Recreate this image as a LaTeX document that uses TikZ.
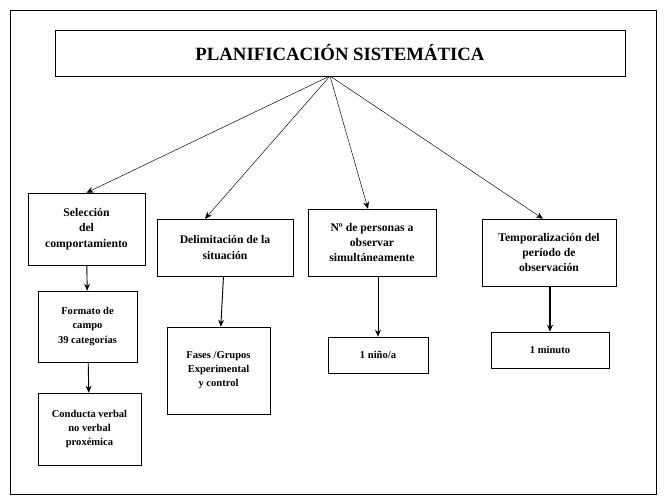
\documentclass[tikz,border=0pt]{standalone}
\usepackage{fontspec}
\setmainfont{Liberation Serif}
\usetikzlibrary{arrows.meta}

\tikzset{
  box/.style={draw=black, fill=white, align=center, inner sep=1pt, font=\bfseries\fontsize{10}{13}\selectfont},
  link/.style={draw=black, -{Stealth[length=6pt,width=5pt]}}
}

\begin{document}
\begin{tikzpicture}[x=0.03cm, y=-0.03cm]
\useasboundingbox (0,0) rectangle (666,500);
\draw (10,10) rectangle (656,494);

\node[box, minimum width=570*0.03cm, minimum height=46*0.03cm, font=\bfseries\fontsize{16}{18}\selectfont] (plan) at (340,53) {PLANIFICACIÓN SISTEMÁTICA};
\coordinate (apex) at (330,76);

\node[box, minimum width=117*0.03cm, minimum height=72*0.03cm] (sel) at (86.5,229) {Selección\\del\\comportamiento};
\node[box, minimum width=136*0.03cm, minimum height=57*0.03cm] (delim) at (225,247.5) {Delimitación de la\\situación};
\node[box, minimum width=128*0.03cm, minimum height=67*0.03cm] (npers) at (372,242.5) {Nº de personas a\\observar\\simultáneamente};
\node[box, minimum width=134*0.03cm, minimum height=67*0.03cm] (temp) at (549,252.5) {Temporalización del\\período de\\observación};

\node[box, minimum width=99*0.03cm, minimum height=71*0.03cm, font=\bfseries\fontsize{9}{12}\selectfont] (form) at (87.5,326.5) {Formato de\\campo\\39 categorías};
\node[box, minimum width=103*0.03cm, minimum height=72*0.03cm, font=\bfseries\fontsize{9}{12}\selectfont] (cond) at (89.5,429) {Conducta verbal\\no verbal\\proxémica};
\node[box, minimum width=103*0.03cm, minimum height=87*0.03cm, font=\bfseries\fontsize{9}{12}\selectfont] (fases) at (218.5,370.5) {Fases /Grupos\\Experimental\\y control};
\node[box, minimum width=100*0.03cm, minimum height=36*0.03cm, font=\bfseries\fontsize{9}{12}\selectfont] (nino) at (378,355) {1 niño/a};
\node[box, minimum width=118*0.03cm, minimum height=36*0.03cm, font=\bfseries\fontsize{9}{12}\selectfont] (minuto) at (550,350) {1 minuto};

% from the title
\draw[link] (apex) -- (sel.north);
\draw[link] (apex) -- ([xshift=-20*0.03cm]delim.north);
\draw[link] (apex) -- ([xshift=-4*0.03cm]npers.north);
\draw[link] (apex) -- ([xshift=-6*0.03cm]temp.north);

% down the columns
\draw[link, thick] (sel) -- (form);
\draw[link, thick] (form) -- (cond);
\draw[link, thick] (delim) -- (fases);
\draw[link, thick] (npers.south -| nino) -- (nino);
\draw[link, line width=2pt] (temp.south -| minuto) -- (minuto);
\end{tikzpicture}
\end{document}
